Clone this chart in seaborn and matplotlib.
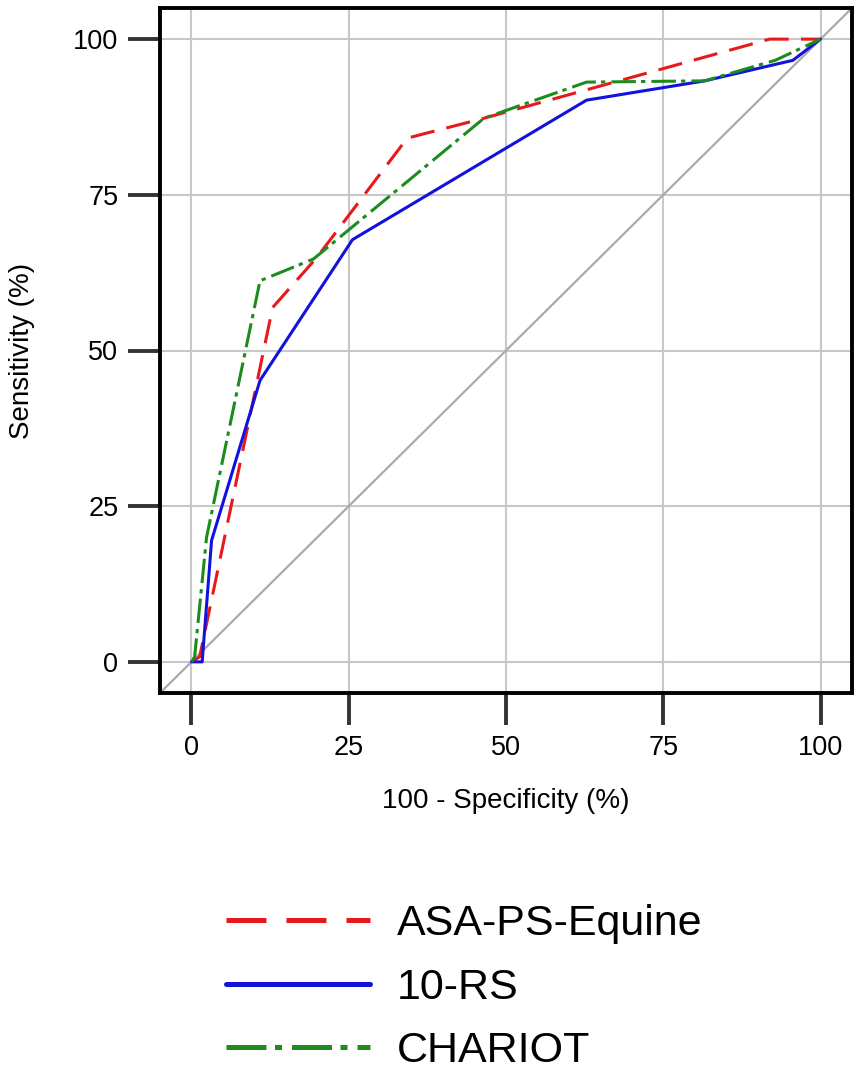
import numpy as np
import pandas as pd
import matplotlib
matplotlib.use('Agg')
import matplotlib.pyplot as plt
from matplotlib.lines import Line2D
import seaborn as sns

sns.set_style('whitegrid')
plt.rcParams['font.family'] = ['Liberation Sans', 'DejaVu Sans']
plt.rcParams['text.color'] = 'black'
plt.rcParams['axes.labelcolor'] = 'black'

# ROC curve points (100 - specificity, sensitivity)
asa_x = [0, 1.3, 12.9, 19.9, 34.3, 46.5, 91.9, 100]
asa_y = [0, 0.8, 56.9, 64.9, 84.1, 87.3, 100, 100]
rs_x = [0, 1.7, 3.2, 10.9, 25.6, 62.8, 81.6, 95.6, 100]
rs_y = [0, 0, 19.5, 45.2, 67.8, 90.2, 93.3, 96.6, 100]
chariot_x = [0, 0.5, 2.4, 10.9, 19.4, 46.5, 62.8, 81.6, 92.8, 100]
chariot_y = [0, 0.8, 20, 61.2, 64.7, 87.3, 93.1, 93.3, 96.6, 100]

models = ['ASA-PS-Equine', '10-RS', 'CHARIOT']
ticks = [0, 25, 50, 75, 100]

colors = {'ASA-PS-Equine': '#e8191b', '10-RS': '#1212dd', 'CHARIOT': '#1d8c1d'}
dash_styles = {'ASA-PS-Equine': (8, 4), '10-RS': '', 'CHARIOT': (8, 1.7, 1.4, 2)}

df = pd.concat([
    pd.DataFrame({'fpr': asa_x, 'tpr': asa_y, 'model': models[0]}),
    pd.DataFrame({'fpr': rs_x, 'tpr': rs_y, 'model': models[1]}),
    pd.DataFrame({'fpr': chariot_x, 'tpr': chariot_y, 'model': models[2]}),
], ignore_index=True)

fig = plt.figure(figsize=(8.6, 10.7), dpi=100)
ax = fig.add_axes([160 / 860, 1 - 693 / 1070, 692 / 860, 685 / 1070])

ax.axline((0, 0), (1, 1), color='#aaaaaa', lw=1.6, zorder=1)
sns.lineplot(data=df, x='fpr', y='tpr', hue='model', style='model',
             hue_order=models, style_order=models, palette=colors,
             dashes=dash_styles, estimator=None, sort=False, lw=2.2,
             legend=False, ax=ax, zorder=3)

ax.set_xlim(-5, 105)
ax.set_ylim(-5, 105)
ax.set_xticks(ticks)
ax.set_yticks(ticks)
ax.grid(True, color='#c8c8c8', lw=1.5)
for s in ax.spines.values():
    s.set_color('black')
    s.set_linewidth(2.8)
ax.tick_params(length=23, width=2.8, color='#333333', pad=7,
               labelsize=19.5, labelcolor='black', bottom=True, left=True)

ax.set_xlabel('100 - Specificity (%)', fontsize=20)
ax.set_ylabel('Sensitivity (%)', fontsize=20)
ax.xaxis.set_label_coords(0.5, -0.1387)
ax.yaxis.set_label_coords(-0.181, 0.5)

handles = [
    Line2D([], [], color=colors['ASA-PS-Equine'], lw=3.6, dashes=dash_styles['ASA-PS-Equine']),
    Line2D([], [], color=colors['10-RS'], lw=3.6, ls='-'),
    Line2D([], [], color=colors['CHARIOT'], lw=3.6, dashes=dash_styles['CHARIOT']),
]
fig.legend(handles, models, loc='center left', bbox_to_anchor=(226 / 860, 0.077),
           frameon=False, fontsize=31, handlelength=3.35, handletextpad=0.62,
           borderpad=0, borderaxespad=0, labelspacing=0.55)

plt.savefig('out.png', dpi=100)
